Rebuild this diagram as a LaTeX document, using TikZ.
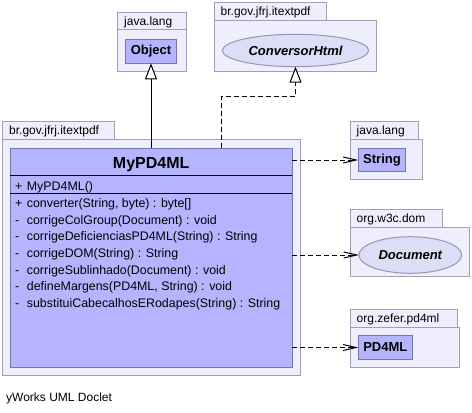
\documentclass[tikz,border=0pt]{standalone}
\usepackage{fontspec}
\setmainfont{Liberation Sans}
\usetikzlibrary{arrows.meta,shapes.geometric}
\definecolor{pkgfill}{RGB}{238,238,252}
\definecolor{pkgdraw}{RGB}{160,160,180}
\definecolor{clsfill}{RGB}{181,181,255}
\definecolor{clsdraw}{RGB}{119,119,170}
\definecolor{ellfill}{RGB}{221,221,248}
\definecolor{elldraw}{RGB}{150,150,175}
\begin{document}
\begin{tikzpicture}[x=1pt,y=-1pt,
  pkgbox/.style={draw=pkgdraw, fill=pkgfill, line width=1pt, inner sep=0pt, outer sep=0pt, anchor=north west},
  clsbox/.style={draw=clsdraw, fill=clsfill, line width=1pt, inner sep=0pt, outer sep=0pt},
  ellbox/.style={ellipse, draw=elldraw, fill=ellfill, line width=1pt, inner sep=0pt, outer sep=0pt, font=\fontsize{13}{15}\selectfont\bfseries\itshape},
  pkglabel/.style={anchor=base west, inner sep=0pt, font=\fontsize{12}{14}\selectfont},
  member/.style={anchor=base west, inner sep=0pt, font=\fontsize{12.4}{14}\selectfont},
  boxname/.style={font=\fontsize{13}{15}\selectfont\bfseries},
  gen/.style={line width=1pt, -{Triangle[open, length=16pt, width=12pt, fill=white]}},
  real/.style={line width=1pt, dash pattern=on 5pt off 3pt, -{Triangle[open, length=16pt, width=12pt, fill=white]}},
  dep/.style={line width=1pt, dash pattern=on 5pt off 3pt, -{Straight Barb[length=13pt, width=6pt]}},
  sep/.style={line width=1pt, black}
]
\useasboundingbox (0,0) rectangle (472,413);
\fill[white] (0,0) rectangle (472,413);

% java.lang (Object)
\node[pkgbox, minimum width=68.7pt, minimum height=17.4pt] (objtab) at (117.3,12.3) {};
\node[pkgbox, minimum width=68.7pt, minimum height=41.6pt] (objpkg) at (117.3,29.7) {};
\node[pkglabel] (objlbl) at (124,25) {java.lang};
\node[clsbox, boxname, minimum width=51.4pt, minimum height=24pt] (obj) at (151,51.3) {Object};

% br.gov.jfrj.itextpdf (ConversorHtml)
\node[pkgbox, minimum width=111.7pt, minimum height=17.7pt] (convtab) at (214.3,2.3) {};
\node[pkgbox, minimum width=162.4pt, minimum height=51.3pt] (convpkg) at (214.3,20) {};
\node[pkglabel] (convlbl) at (220.5,15) {br.gov.jfrj.itextpdf};
\node[ellbox, minimum width=146.4pt, minimum height=32.4pt] (conv) at (295.5,50.5) {ConversorHtml};

% br.gov.jfrj.itextpdf (main)
\node[pkgbox, minimum width=111.6pt, minimum height=18.3pt] (maintab) at (2.7,121) {};
\node[pkgbox, minimum width=297.3pt, minimum height=235.7pt] (mainpkg) at (2.7,139.3) {};
\node[pkglabel] (mainlbl) at (9,134.3) {br.gov.jfrj.itextpdf};
\node[clsbox, anchor=north west, minimum width=282.3pt, minimum height=219.4pt] (cls) at (10,148.3) {};
\node[anchor=base, inner sep=0pt, font=\fontsize{16}{18}\selectfont\bfseries] (clsname) at (151.2,168.3) {MyPD4ML};
\draw[sep] (10,175.7) coordinate (s1a) -- (292.3,175.7) coordinate (s1b);
\draw[sep] (10,193.3) coordinate (s2a) -- (292.3,193.3) coordinate (s2b);
\node[member] (v0) at (15,190) {+};
\node[member] (m0) at (26.7,190) {MyPD4ML()};
\node[member] (v1) at (15,207.3) {+};
\node[member] (m1) at (26.7,207.3) {converter(String, byte) : byte[]};
\node[member] (v2) at (15,224) {-};
\node[member] (m2) at (26.7,224) {corrigeColGroup(Document) : void};
\node[member] (v3) at (15,240.7) {-};
\node[member] (m3) at (26.7,240.7) {corrigeDeficienciasPD4ML(String) : String};
\node[member] (v4) at (15,257.3) {-};
\node[member] (m4) at (26.7,257.3) {corrigeDOM(String) : String};
\node[member] (v5) at (15,274) {-};
\node[member] (m5) at (26.7,274) {corrigeSublinhado(Document) : void};
\node[member] (v6) at (15,290.7) {-};
\node[member] (m6) at (26.7,290.7) {defineMargens(PD4ML, String) : void};
\node[member] (v7) at (15,307.3) {-};
\node[member] (m7) at (26.7,307.3) {substituiCabecalhosERodapes(String) : String};

% java.lang (String)
\node[pkgbox, minimum width=68pt, minimum height=17.6pt] (strtab) at (350.3,121.7) {};
\node[pkgbox, minimum width=72.4pt, minimum height=40pt] (strpkg) at (350.3,139.3) {};
\node[pkglabel] (strlbl) at (356.5,134.3) {java.lang};
\node[clsbox, boxname, minimum width=47.4pt, minimum height=23.4pt] (str) at (382,160) {String};

% org.w3c.dom (Document)
\node[pkgbox, minimum width=92.4pt, minimum height=18.4pt] (doctab) at (350.3,209.3) {};
\node[pkgbox, minimum width=119pt, minimum height=49pt] (docpkg) at (350.3,227.7) {};
\node[pkglabel] (doclbl) at (356.5,222.7) {org.w3c.dom};
\node[ellbox, minimum width=102.7pt, minimum height=36.6pt] (doc) at (410.3,255) {Document};

% org.zefer.pd4ml (PD4ML)
\node[pkgbox, minimum width=107.4pt, minimum height=18.3pt] (pdtab) at (350.3,309) {};
\node[pkgbox, minimum width=109pt, minimum height=40pt] (pdpkg) at (350.3,327.3) {};
\node[pkglabel] (pdlbl) at (356.5,322.3) {org.zefer.pd4ml};
\node[clsbox, boxname, minimum width=54pt, minimum height=23.6pt] (pd) at (385.3,347.5) {PD4ML};

% footer
\node[pkglabel] (footer) at (6,401) {yWorks UML Doclet};

% connectors
\draw[gen] (cls.north -| obj.south) -- (obj.south);
\coordinate (rb) at (221.7,96.3);
\draw[real] (cls.north -| rb) -- (rb) -| (conv.south);
\draw[dep] (cls.east |- str.west) -- (str.west);
\draw[dep] (cls.east |- doc.west) -- (doc.west);
\draw[dep] (cls.east |- pd.west) -- (pd.west);
\end{tikzpicture}
\end{document}
